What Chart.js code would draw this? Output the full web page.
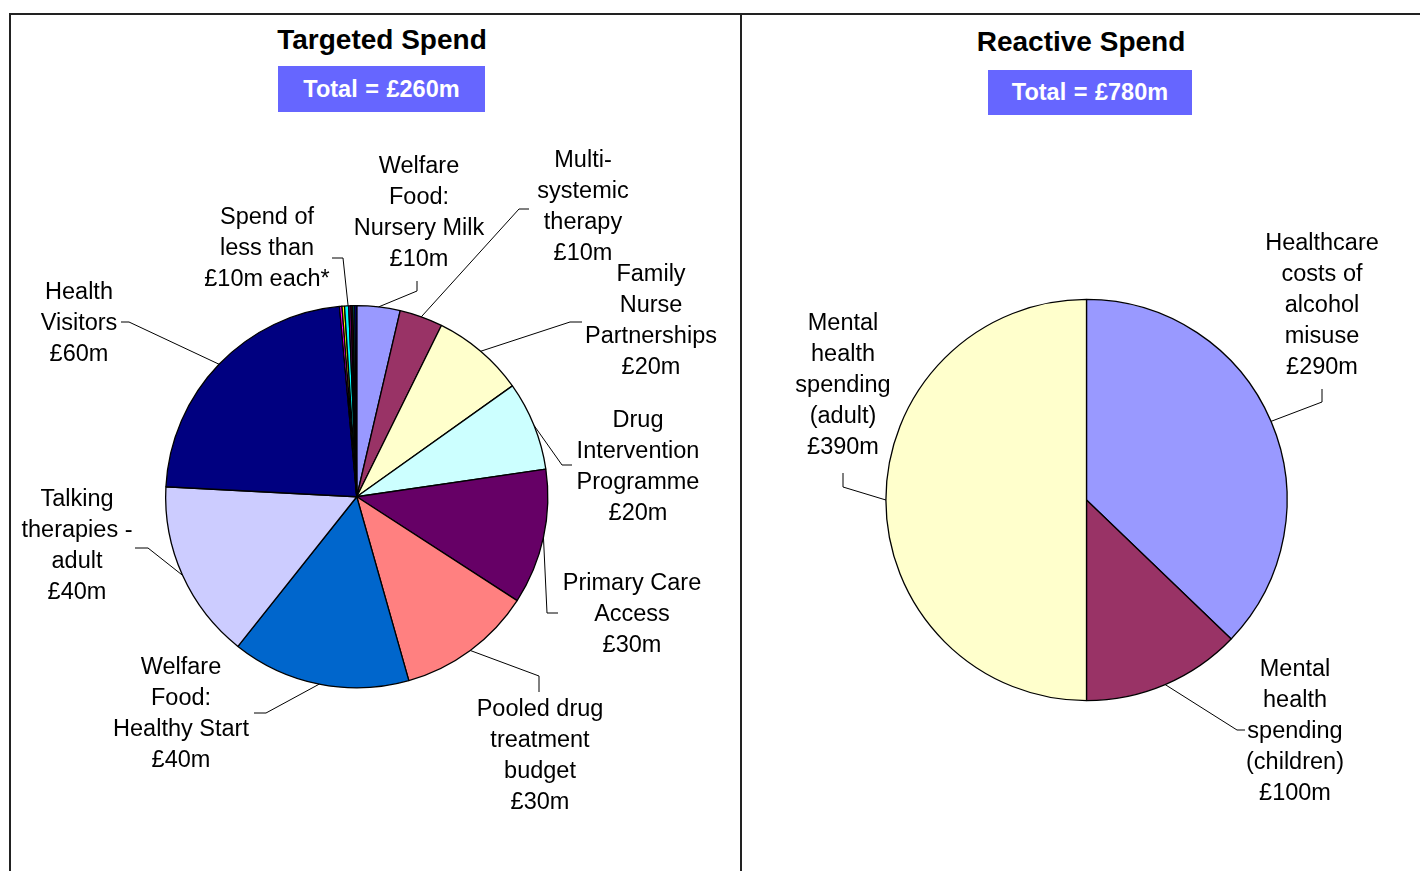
<!DOCTYPE html>
<html>
<head>
<meta charset="utf-8">
<script src="https://cdn.jsdelivr.net/npm/chart.js@4"></script>
<style>
  body { margin: 0; background: #fff; width: 1420px; height: 871px; overflow: hidden; position: relative; font-family: "Liberation Sans", Arial, sans-serif; }
  .line { position: absolute; background: #222; }
  .title { position: absolute; font-weight: bold; font-size: 28px; text-align: center; width: 400px; line-height: 30px; }
  .total { position: absolute; background: #6666ff; color: #fff; font-weight: bold; font-size: 23.5px; word-spacing: 1px; text-align: center; }
  canvas { position: absolute; top: 0; }
</style>
</head>
<body>
<div class="line" style="left:9px; top:13px; width:1411px; height:1.5px;"></div>
<div class="line" style="left:9px; top:13px; width:1.5px; height:858px;"></div>
<div class="line" style="left:740px; top:13px; width:1.5px; height:858px;"></div>

<div class="title" style="left:182px; top:25px;">Targeted Spend</div>
<div class="total" style="left:278px; top:66px; width:207px; height:46px; line-height:46px;">Total = £260m</div>
<div class="title" style="left:881px; top:27px;">Reactive Spend</div>
<div class="total" style="left:988px; top:70px; width:204px; height:45px; line-height:45px;">Total = £780m</div>

<canvas id="targeted" width="741" height="871" style="left:0;"></canvas>
<canvas id="reactive" width="678" height="871" style="left:742px;"></canvas>

<script>
// TARGETED SPEND (£m) - clockwise from 12 o'clock
const targetedCategories = [
  "Welfare Food: Nursery Milk", "Multi-systemic therapy", "Family Nurse Partnerships",
  "Drug Intervention Programme", "Primary Care Access", "Pooled drug treatment budget",
  "Welfare Food: Healthy Start", "Talking therapies - adult", "Health Visitors",
  "Small 1", "Small 2", "Small 3", "Small 4", "Small 5", "Small 6", "Small 7"
];
const targetedValues = [9.5, 9.5, 20.4, 19.6, 29.8, 29.8, 39.2, 39.4, 59.1, 0.55, 0.55, 0.9, 0.5, 0.4, 0.45, 0.4];
const targetedColors = [
  "#9999ff", "#993366", "#ffffcc", "#ccffff", "#660066", "#ff8080", "#0066cc", "#ccccff", "#000080",
  "#ff00ff", "#ffff00", "#00ffff", "#800080", "#800000", "#008080", "#0000ff"
];
const targetedLabelText = [
  ["Welfare", "Food:", "Nursery Milk", "£10m"],
  ["Multi-", "systemic", "therapy", "£10m"],
  ["Family", "Nurse", "Partnerships", "£20m"],
  ["Drug", "Intervention", "Programme", "£20m"],
  ["Primary Care", "Access", "£30m"],
  ["Pooled drug", "treatment", "budget", "£30m"],
  ["Welfare", "Food:", "Healthy Start", "£40m"],
  ["Talking", "therapies -", "adult", "£40m"],
  ["Health", "Visitors", "£60m"],
  ["Spend of", "less than", "£10m each*"]
];

// REACTIVE SPEND (£m)
const reactiveCategories = ["Healthcare costs of alcohol misuse", "Mental health spending (children)", "Mental health spending (adult)"];
const reactiveValues = [290, 100, 390];
const reactiveColors = ["#9999ff", "#993366", "#ffffcc"];
const reactiveLabelText = [
  ["Healthcare", "costs of", "alcohol", "misuse", "£290m"],
  ["Mental", "health", "spending", "(children)", "£100m"],
  ["Mental", "health", "spending", "(adult)", "£390m"]
];

// label placement (page coords): text centre x, first line y, leader elbow points
const targetedLayout = [
  { slices: [0], x: 419, y: 167, leader: [[417, 291], [417, 281]] },
  { slices: [1], x: 583, y: 161, leader: [[519, 209], [529, 209]] },
  { slices: [2], x: 651, y: 275, leader: [[570, 322], [582, 322]] },
  { slices: [3], x: 638, y: 421, leader: [[562, 465], [572, 465]] },
  { slices: [4], x: 632, y: 584, leader: [[547, 613], [558, 613]] },
  { slices: [5], x: 540, y: 710, leader: [[539, 676], [539, 692]] },
  { slices: [6], x: 181, y: 668, leader: [[266, 713], [254, 713]] },
  { slices: [7], x: 77, y: 500, leader: [[148, 548], [135, 548]] },
  { slices: [8], x: 79, y: 293, leader: [[129, 322], [121, 322]] },
  { slices: [9, 15], x: 267, y: 218, leader: [[343, 258], [332, 258]] }
];
const reactiveLayout = [
  { slices: [0], x: 1322, y: 244, leader: [[1322, 402], [1322, 389]] },
  { slices: [1], x: 1295, y: 670, leader: [[1237, 730], [1245, 730]] },
  { slices: [2], x: 843, y: 324, leader: [[843, 487], [843, 473]] }
];

const sliceLabels = {
  id: "sliceLabels",
  afterDatasetsDraw(chart, args, opts) {
    const ctx = chart.ctx;
    const arcs = chart.getDatasetMeta(0).data;
    ctx.save();
    ctx.strokeStyle = "#000";
    ctx.lineWidth = 1;
    ctx.fillStyle = "#000";
    ctx.font = "23.5px 'Liberation Sans', Arial, sans-serif";
    ctx.textAlign = "center";
    ctx.textBaseline = "middle";
    opts.layout.forEach((l, i) => {
      const first = arcs[l.slices[0]];
      const last = arcs[l.slices[l.slices.length - 1]];
      const mid = (first.startAngle + last.endAngle) / 2;
      const sx = first.x + Math.cos(mid) * first.outerRadius;
      const sy = first.y + Math.sin(mid) * first.outerRadius;
      ctx.beginPath();
      ctx.moveTo(sx, sy);
      l.leader.forEach(p => ctx.lineTo(p[0] - opts.offsetX, p[1]));
      ctx.stroke();
      opts.texts[i].forEach((t, j) => {
        ctx.fillText(t, l.x - opts.offsetX, l.y + j * 31);
      });
    });
    ctx.restore();
  }
};

function makePie(id, labels, values, colors, texts, layout, offsetX, padding) {
  return new Chart(document.getElementById(id), {
    type: "pie",
    data: {
      labels: labels,
      datasets: [{
        data: values,
        backgroundColor: colors,
        borderColor: "#000",
        borderWidth: 1.3
      }]
    },
    options: {
      responsive: false,
      animation: false,
      events: [],
      layout: { padding: padding },
      plugins: {
        legend: { display: false },
        tooltip: { enabled: false },
        sliceLabels: { texts: texts, layout: layout, offsetX: offsetX }
      }
    },
    plugins: [sliceLabels]
  });
}

makePie("targeted", targetedCategories, targetedValues, targetedColors, targetedLabelText, targetedLayout, 0,
  { left: 165, right: 192.5, top: 305, bottom: 182.5 });
makePie("reactive", reactiveCategories, reactiveValues, reactiveColors, reactiveLabelText, reactiveLayout, 742,
  { left: 143.25, right: 132.25, top: 298.75, bottom: 169.75 });
</script>
</body>
</html>
